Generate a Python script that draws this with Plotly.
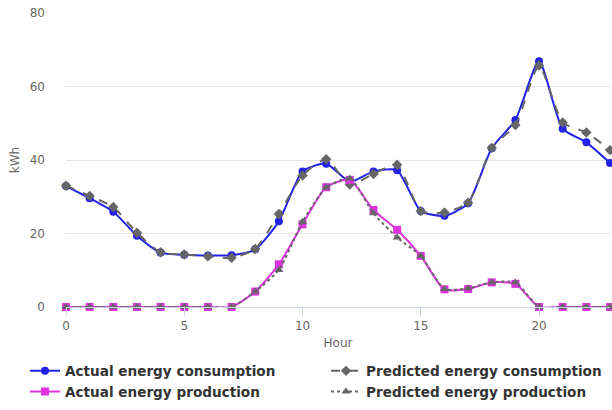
import plotly.graph_objects as go

hours = list(range(24))
actual_consumption = [32.9, 29.6, 25.9, 19.4, 14.8, 14.2, 14.0, 14.1, 15.7, 23.3, 36.9, 39.0,
                      34.1, 36.9, 37.2, 26.1, 24.8, 28.2, 43.2, 50.9, 66.9, 48.5, 44.8, 39.2]
predicted_consumption = [33.0, 30.2, 27.2, 20.2, 14.9, 14.3, 13.8, 13.4, 15.8, 25.3, 35.8, 40.2,
                         33.3, 36.2, 38.7, 26.1, 25.7, 28.4, 43.3, 49.5, 65.7, 50.2, 47.5, 42.7]
actual_production = [0, 0, 0, 0, 0, 0, 0, 0, 4.2, 11.6, 22.5, 32.6,
                     34.6, 26.4, 21.0, 13.9, 4.8, 4.9, 6.7, 6.3, 0, 0, 0, 0]
predicted_production = [0, 0, 0, 0, 0, 0, 0, 0, 4.2, 10.1, 23.2, 32.5,
                        35.0, 25.5, 18.9, 13.9, 4.9, 5.1, 6.7, 6.7, 0, 0, 0, 0]

BLUE = "#2323e8"
MAG = "#dd33dd"
GRAY = "#666666"

fig = go.Figure()
fig.add_trace(go.Scatter(x=hours, y=actual_consumption, name="Actual energy consumption",
                         mode="lines+markers", line=dict(color=BLUE, width=2, shape="spline", smoothing=0.6),
                         marker=dict(symbol="circle", size=8, color=BLUE), cliponaxis=False, legend="legend"))
fig.add_trace(go.Scatter(x=hours, y=predicted_consumption, name="Predicted energy consumption",
                         mode="lines+markers", line=dict(color=GRAY, width=2, dash="dash", shape="spline", smoothing=0.6),
                         marker=dict(symbol="diamond", size=8, color=GRAY), cliponaxis=False, legend="legend2"))
fig.add_trace(go.Scatter(x=hours, y=actual_production, name="Actual energy production",
                         mode="lines+markers", line=dict(color=MAG, width=2, shape="spline", smoothing=0.6),
                         marker=dict(symbol="square", size=8, color=MAG), cliponaxis=False, legend="legend"))
fig.add_trace(go.Scatter(x=hours, y=predicted_production, name="Predicted energy production",
                         mode="lines+markers", line=dict(color=GRAY, width=2, dash="dot", shape="spline", smoothing=0.6),
                         marker=dict(symbol="triangle-up", size=8, color=GRAY), cliponaxis=False, legend="legend2"))

legend_font = dict(family="DejaVu Sans, sans-serif", size=13.6, color="#333333", weight="bold")

fig.update_layout(
    width=612, height=410,
    margin=dict(l=66, r=2, t=13, b=103),
    plot_bgcolor="white", paper_bgcolor="white",
    font=dict(family="DejaVu Sans, sans-serif", color="#666666", size=12),
    xaxis=dict(range=[0, 23], tickvals=[0, 5, 10, 15, 20], showgrid=False, zeroline=False,
               showline=True, linecolor="#ccd6eb", linewidth=1, ticks="outside", ticklen=8,
               tickcolor="#ccd6eb", automargin=False, tickfont=dict(size=12),
               title=dict(text="Hour", standoff=6, font=dict(size=12, color="#666666"))),
    yaxis=dict(range=[0, 80], tickvals=[0, 20, 40, 60, 80], showgrid=True, gridcolor="#e6e6e6",
               zeroline=False, ticks="", ticklabelstandoff=20, automargin=False, tickfont=dict(size=12),
               title=dict(text="kWh", standoff=7, font=dict(size=12, color="#666666"))),
    legend=dict(orientation="h", x=-0.0754, xanchor="left", y=-0.165, yanchor="top",
                entrywidth=270, entrywidthmode="pixels", itemwidth=30, font=legend_font,
                bgcolor="rgba(0,0,0,0)", tracegroupgap=0),
    legend2=dict(orientation="h", x=0.478, xanchor="left", y=-0.165, yanchor="top",
                 entrywidth=235, entrywidthmode="pixels", itemwidth=30, font=legend_font,
                 bgcolor="rgba(0,0,0,0)", tracegroupgap=0),
    showlegend=True,
)

fig.write_html("out.html", config={"displayModeBar": False},
               post_script="document.body.style.margin='0';")
